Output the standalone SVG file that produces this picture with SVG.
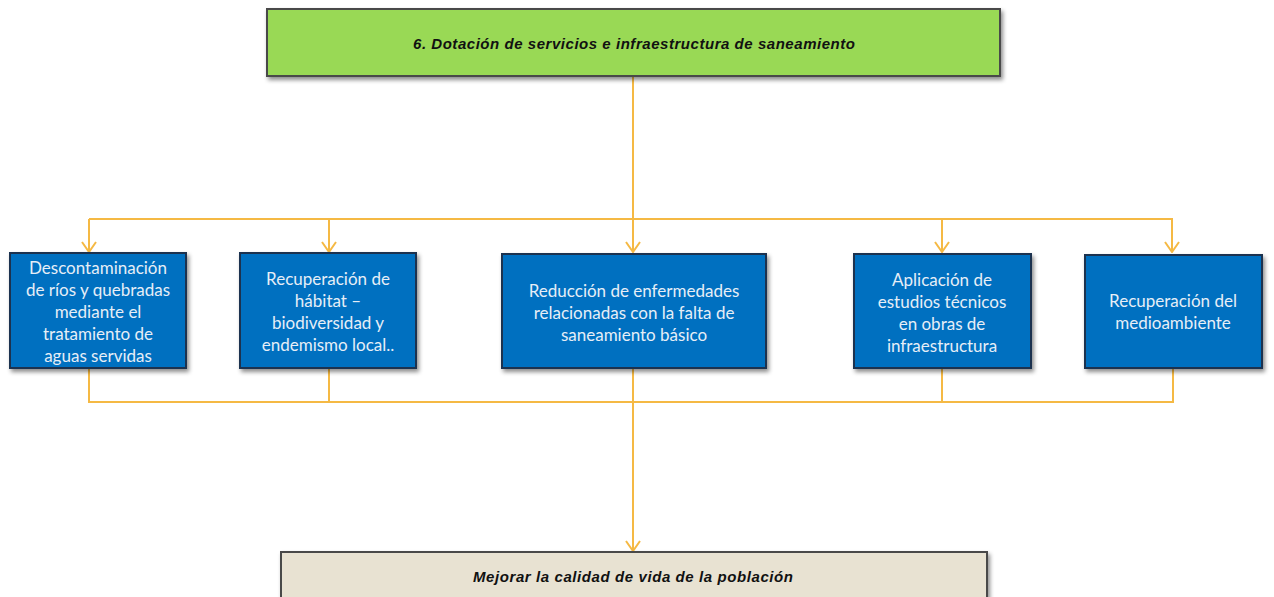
<svg xmlns="http://www.w3.org/2000/svg" width="1274" height="597" viewBox="0 0 1274 597">
<style>
.conn{fill:none;stroke:#f5b944;stroke-width:2}
.box{fill:#0070c0;stroke:#1d3350;stroke-width:2;filter:url(#sh)}
.bt{font-family:Lato,"Open Sans",sans-serif;font-size:17px;fill:#e6eef7;text-anchor:middle}
.title{font-family:"Liberation Sans",Arial,sans-serif;font-size:15px;font-weight:bold;font-style:italic;fill:#111;text-anchor:middle}
</style>
<defs>
<filter id="sh" x="-10%" y="-10%" width="120%" height="130%">
<feDropShadow dx="2" dy="3" stdDeviation="2" flood-color="#000" flood-opacity="0.45"/>
</filter>
<marker id="arr" viewBox="0 0 12 16" refX="11" refY="8" markerWidth="12" markerHeight="16" markerUnits="userSpaceOnUse" orient="auto">
<path d="M1,1 L11,8 L1,15" fill="none" stroke="#f5b944" stroke-width="2"/>
</marker>
</defs>
<g id="connectors">
<path class="conn" d="M633,76 V219"/>
<path class="conn" d="M89,219 H1173"/>
<path class="conn" d="M89,219 V252" marker-end="url(#arr)"/>
<path class="conn" d="M329,219 V252" marker-end="url(#arr)"/>
<path class="conn" d="M633,219 V252" marker-end="url(#arr)"/>
<path class="conn" d="M942,219 V252" marker-end="url(#arr)"/>
<path class="conn" d="M1172,219 V252" marker-end="url(#arr)"/>
<path class="conn" d="M89,368 V402 H1173 V368"/>
<path class="conn" d="M329,368 V402"/>
<path class="conn" d="M942,368 V402"/>
<path class="conn" d="M633,368 V551" marker-end="url(#arr)"/>
</g>
<g id="top">
<rect x="267" y="9" width="733" height="67" fill="#99d955" stroke="#4a4a4a" stroke-width="2" filter="url(#sh)"/>
<text class="title" x="634" y="49" textLength="442" lengthAdjust="spacing">6. Dotación de servicios  e infraestructura de saneamiento</text>
</g>
<g id="n1">
<rect class="box" x="10" y="253" width="176" height="115"/>
<text class="bt" x="98" y="274">Descontaminación</text>
<text class="bt" x="98" y="296">de ríos y quebradas</text>
<text class="bt" x="98" y="318">mediante el</text>
<text class="bt" x="98" y="340">tratamiento de</text>
<text class="bt" x="98" y="362">aguas servidas</text>
</g>
<g id="n2">
<rect class="box" x="240" y="253" width="176" height="115"/>
<text class="bt" x="328" y="285">Recuperación de</text>
<text class="bt" x="328" y="307">hábitat –</text>
<text class="bt" x="328" y="329">biodiversidad y</text>
<text class="bt" x="328" y="351">endemismo local..</text>
</g>
<g id="n3">
<rect class="box" x="502" y="254" width="264" height="114"/>
<text class="bt" x="634" y="297">Reducción de enfermedades</text>
<text class="bt" x="634" y="319">relacionadas con la falta de</text>
<text class="bt" x="634" y="341">saneamiento básico</text>
</g>
<g id="n4">
<rect class="box" x="854" y="254" width="177" height="114"/>
<text class="bt" x="942" y="286">Aplicación de</text>
<text class="bt" x="942" y="308">estudios técnicos</text>
<text class="bt" x="942" y="330">en obras de</text>
<text class="bt" x="942" y="352">infraestructura</text>
</g>
<g id="n5">
<rect class="box" x="1085" y="255" width="177" height="113"/>
<text class="bt" x="1173" y="307">Recuperación del</text>
<text class="bt" x="1173" y="329">medioambiente</text>
</g>
<g id="bottom">
<rect x="281" y="552" width="706" height="60" fill="#e8e2d2" stroke="#4a4a4a" stroke-width="2" filter="url(#sh)"/>
<text class="title" x="633" y="582" textLength="320" lengthAdjust="spacing">Mejorar  la calidad  de vida  de la población</text>
</g>
</svg>
